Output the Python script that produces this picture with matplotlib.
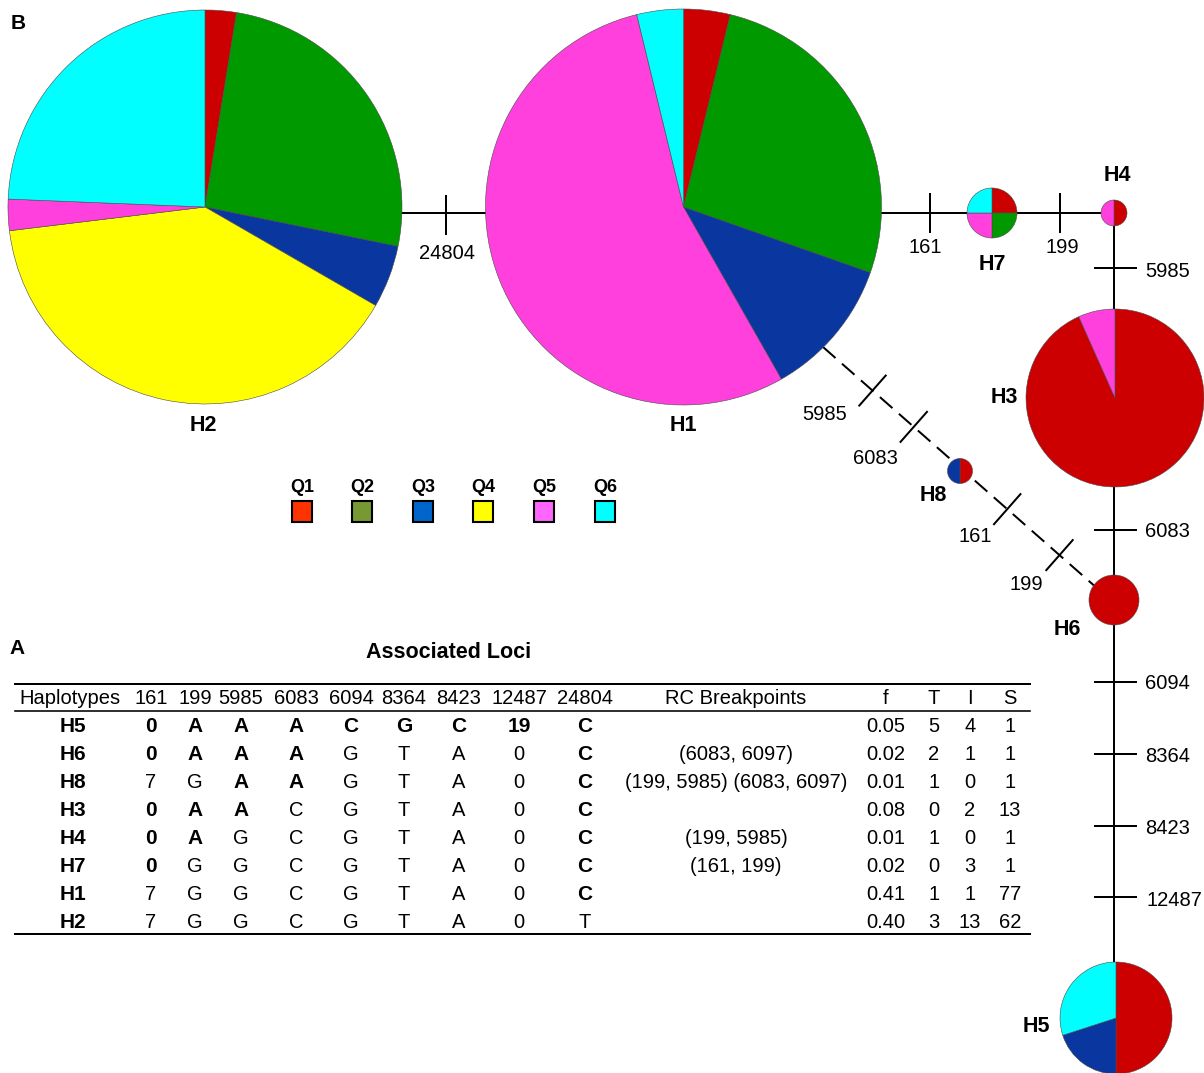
import matplotlib
matplotlib.use("Agg")
import numpy as np
import matplotlib.pyplot as plt
from matplotlib.patches import Rectangle

plt.rcParams["font.family"] = ["Liberation Sans", "DejaVu Sans"]
plt.rcParams["lines.scale_dashes"] = False

# ---------------------------------------------------------------- data
clusters = ["Q1", "Q2", "Q3", "Q4", "Q5", "Q6"]
pie_colors = ["#CC0000", "#009900", "#0A36A0", "#FFFF00", "#FF40DD", "#00FFFF"]
legend_colors = ["#FF3300", "#779933", "#0066CC", "#FFFF00", "#FF66FF", "#00FFFF"]

# individuals of each ancestry cluster (Q1..Q6) carrying each haplotype
counts_H1 = [3, 21, 9, 0, 43, 3]
counts_H2 = [2, 20, 4, 31, 2, 19]
counts_H3 = [14, 0, 0, 0, 1, 0]
counts_H4 = [1, 0, 0, 0, 1, 0]
counts_H5 = [5, 0, 2, 0, 0, 3]
counts_H6 = [4, 0, 0, 0, 0, 0]
counts_H7 = [1, 1, 0, 0, 1, 1]
counts_H8 = [1, 0, 1, 0, 0, 0]

loci = ["161", "199", "5985", "6083", "6094", "8364", "8423", "12487", "24804"]
table_haplotypes = ["H5", "H6", "H8", "H3", "H4", "H7", "H1", "H2"]
alleles = [
    ["0", "A", "A", "A", "C", "G", "C", "19", "C"],
    ["0", "A", "A", "A", "G", "T", "A", "0", "C"],
    ["7", "G", "A", "A", "G", "T", "A", "0", "C"],
    ["0", "A", "A", "C", "G", "T", "A", "0", "C"],
    ["0", "A", "G", "C", "G", "T", "A", "0", "C"],
    ["0", "G", "G", "C", "G", "T", "A", "0", "C"],
    ["7", "G", "G", "C", "G", "T", "A", "0", "C"],
    ["7", "G", "G", "C", "G", "T", "A", "0", "T"],
]
rc_breakpoints = ["", "(6083, 6097)", "(199, 5985) (6083, 6097)", "",
                  "(199, 5985)", "(161, 199)", "", ""]
freq = ["0.05", "0.02", "0.01", "0.08", "0.01", "0.02", "0.41", "0.40"]
T_vals = [5, 2, 1, 0, 1, 0, 1, 3]
I_vals = [4, 1, 0, 2, 0, 3, 1, 13]
S_vals = [1, 1, 1, 13, 1, 1, 77, 62]

# ---------------------------------------------------------------- canvas
W, H = 1204, 1073
fig = plt.figure(figsize=(W / 100, H / 100), dpi=100)
ax = fig.add_axes([0, 0, 1, 1])
ax.set_xlim(0, W)
ax.set_ylim(H, 0)
ax.axis("off")

PX = 72 / 100  # points per pixel


def txt(x, yc, s, size=14, bold=False, ha="center", **kw):
    """Place text so that the cap height is centred on yc."""
    cap = 0.716 * size / PX
    ax.text(x, yc + cap / 2, s, fontsize=size, ha=ha, va="baseline",
            fontweight="bold" if bold else "normal", color="black", **kw)


# ---------------------------------------------------------------- network
nodes = {
    "H1": dict(counts=counts_H1, xy=(683.5, 207), r=198, lab=(683, 423)),
    "H2": dict(counts=counts_H2, xy=(205, 207), r=197, lab=(203, 423)),
    "H3": dict(counts=counts_H3, xy=(1115, 398), r=89, lab=(1004, 395)),
    "H4": dict(counts=counts_H4, xy=(1114, 213), r=13, lab=(1117, 173)),
    "H5": dict(counts=counts_H5, xy=(1116, 1018), r=56, lab=(1036, 1024)),
    "H6": dict(counts=counts_H6, xy=(1114, 600), r=25, lab=(1067, 627)),
    "H7": dict(counts=counts_H7, xy=(992, 213), r=25, lab=(992, 262)),
    "H8": dict(counts=counts_H8, xy=(960, 471), r=12.5, lab=(933, 493)),
}

lw = 2 * PX
solid_edges = [((380, 213), (500, 213)),
               ((860, 213), (1114, 213)),
               ((1114, 213), (1114, 1018))]
for (x0, y0), (x1, y1) in solid_edges:
    ax.plot([x0, x1], [y0, y1], color="black", lw=lw, zorder=1,
            solid_capstyle="butt")

dash_start, dash_end = np.array([823.0, 347.0]), np.array([1098.0, 589.0])
ax.plot([dash_start[0], dash_end[0]], [dash_start[1], dash_end[1]],
        color="black", lw=lw, ls=(0, (12, 6.2)), zorder=1)

half = 19
# mutation ticks on solid edges: (label, tick centre, orientation, label pos, ha)
solid_ticks = [
    ("24804", (446, 215), "v", (447, 252), "center"),
    ("161", (930, 213), "v", (925, 246), "center"),
    ("199", (1060, 213), "v", (1062, 246), "center"),
    ("5985", (1115, 268), "h", (1145, 270), "left"),
    ("6083", (1115, 530), "h", (1145, 530), "left"),
    ("6094", (1115, 682), "h", (1145, 682), "left"),
    ("8364", (1115, 754), "h", (1145, 755), "left"),
    ("8423", (1115, 826), "h", (1145, 827), "left"),
    ("12487", (1115, 897), "h", (1146, 899), "left"),
]
for lab, (tx, ty), ori, (lx, ly), ha in solid_ticks:
    if ori == "v":
        ax.plot([tx, tx], [ty - half, ty + half], color="black", lw=lw, zorder=1)
    else:
        ax.plot([tx - 20, tx + 21], [ty, ty], color="black", lw=lw, zorder=1)
    txt(lx, ly, lab, 14.5, ha=ha)

# mutation ticks on the dashed (recombinant) path
d = dash_end - dash_start
L = np.hypot(*d)
u = d / L
nrm = np.array([u[1], -u[0]])
dashed_ticks = [("5985", 0.18, (825, 413)),
                ("6083", 0.33, (875, 457)),
                ("161", 0.67, (975, 535)),
                ("199", 0.86, (1026, 583))]
for lab, t, (lx, ly) in dashed_ticks:
    c = dash_start + t * d
    p0, p1 = c - 20 * nrm, c + 20 * nrm
    ax.plot([p0[0], p1[0]], [p0[1], p1[1]], color="black", lw=lw, zorder=1)
    txt(lx, ly, lab, 14.5)

for name, nd in nodes.items():
    vals = [v for v in nd["counts"] if v > 0]
    cols = [c for v, c in zip(nd["counts"], pie_colors) if v > 0]
    wedges, _ = ax.pie(vals, colors=cols, center=nd["xy"], radius=nd["r"],
                       startangle=-90, counterclock=True, frame=True,
                       wedgeprops=dict(edgecolor="#4a4a4a", linewidth=0.4))
    for w in wedges:
        w.set_zorder(3)
    txt(nd["lab"][0], nd["lab"][1], name, 15.5, bold=True)

# legend
leg_x = [302, 362, 423, 483, 544, 605]
for q, col, x in zip(clusters, legend_colors, leg_x):
    txt(x, 486, q, 13, bold=True)
    ax.add_patch(Rectangle((x - 10, 501), 20, 21, facecolor=col,
                           edgecolor="black", lw=1.5, zorder=3))

# panel letters
txt(18, 22, "B", 15, bold=True)
txt(17, 647, "A", 15, bold=True)

# ---------------------------------------------------------------- table
txt(449, 650, "Associated Loci", 15.5, bold=True)
ax.plot([15, 1030], [684, 684], color="black", lw=2 * PX)
ax.plot([15, 1030], [711, 711], color="black", lw=1.6 * PX)
ax.plot([15, 1030], [934, 934], color="black", lw=2 * PX)

locus_x = [151, 195, 241, 296, 351, 404, 459, 519, 585]
rc_x, f_x, T_x, I_x, S_x = 736, 886, 934, 970, 1010
hdr_y = 697
txt(70, hdr_y, "Haplotypes", 14.5)
for lx, lc in zip(locus_x, loci):
    txt(lx, hdr_y, lc, 14.5)
txt(rc_x, hdr_y, "RC Breakpoints", 14.5)
for x, s in zip([f_x, T_x, I_x, S_x], ["f", "T", "I", "S"]):
    txt(x, hdr_y, s, 14.5)

ref = alleles[table_haplotypes.index("H2")]
for i, hap in enumerate(table_haplotypes):
    y = 725 + i * 27.9
    txt(73, y, hap, 15, bold=True)
    for lx, a, r0 in zip(locus_x, alleles[i], ref):
        txt(lx, y, a, 15 if a != r0 else 14.5, bold=(a != r0))
    txt(rc_x, y, rc_breakpoints[i], 14.5)
    txt(f_x, y, freq[i], 14.5)
    txt(T_x, y, str(T_vals[i]), 14.5)
    txt(I_x, y, str(I_vals[i]), 14.5)
    txt(S_x, y, str(S_vals[i]), 14.5)

fig.savefig("out.png", dpi=100)
